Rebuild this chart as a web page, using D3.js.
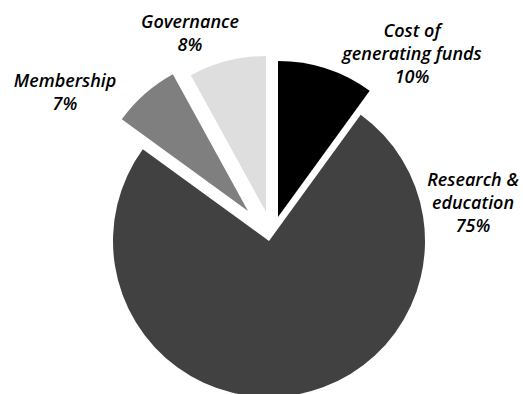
<!DOCTYPE html>
<meta charset="utf-8">
<script src="https://d3js.org/d3.v7.min.js"></script>
<style>
  body { margin: 0; background: #fff; }
  .lbl { font-family: "Open Sans", sans-serif; font-weight: 600; font-style: italic; font-size: 18px; fill: #000; font-variant-ligatures: none; }
</style>
<div id="my_dataviz"></div>
<script>

  // data
  var categories = ["Cost of generating funds", "Research & education", "Membership", "Governance"];
  var values = [10, 75, 7, 8];
  var labelLines = [["Cost of", "generating funds"], ["Research &", "education"], ["Membership"], ["Governance"]];

  var width = 523, height = 394;
  var cx = 269, cy = 241, radius = 156;

  // colours and exploded offsets per slice
  var colors = {
    "Cost of generating funds": "#000000",
    "Research & education": "#414141",
    "Membership": "#7f7f7f",
    "Governance": "#dedede"
  };
  var explode = {
    "Cost of generating funds": [9, -24],
    "Research & education": [0, 0],
    "Membership": [-21, -30],
    "Governance": [-3, -29]
  };
  // label anchor (centre x, first baseline)
  var labelPos = {
    "Cost of generating funds": [412, 37],
    "Research & education": [473, 186],
    "Membership": [65, 87],
    "Governance": [190, 28]
  };
  var lineH = 23;

  var svg = d3.select("#my_dataviz")
    .append("svg")
      .attr("width", width)
      .attr("height", height);

  var data = categories.map(function(c, i) { return {name: c, value: values[i], lines: labelLines[i]}; });

  var pie = d3.pie().sort(null).value(function(d) { return d.value; });
  var arc = d3.arc().innerRadius(0).outerRadius(radius);

  var g = svg.append("g")
    .attr("transform", "translate(" + cx + "," + cy + ")");

  g.selectAll("path")
    .data(pie(data))
    .enter()
    .append("path")
      .attr("d", arc)
      .attr("fill", function(d) { return colors[d.data.name]; })
      .attr("transform", function(d) {
        var o = explode[d.data.name];
        return "translate(" + o[0] + "," + o[1] + ")";
      });

  // labels
  var labels = svg.selectAll("text.lbl")
    .data(data)
    .enter()
    .append("text")
      .attr("class", "lbl")
      .attr("text-anchor", "middle")
      .attr("x", function(d) { return labelPos[d.name][0]; })
      .attr("y", function(d) { return labelPos[d.name][1]; });

  labels.each(function(d) {
    var t = d3.select(this);
    var p = labelPos[d.name];
    d.lines.concat([d.value + "%"]).forEach(function(line, i) {
      t.append("tspan")
        .attr("x", p[0])
        .attr("y", p[1] + i * lineH)
        .text(line);
    });
  });

</script>
